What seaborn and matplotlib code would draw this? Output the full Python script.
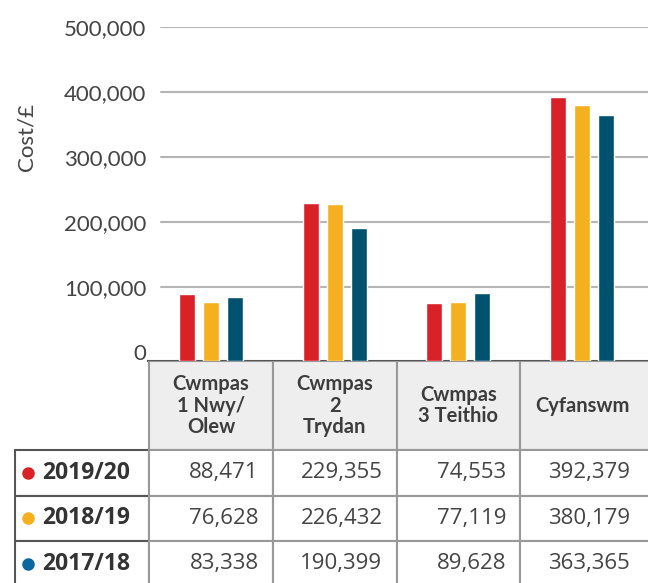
import numpy as np
import pandas as pd
import matplotlib
matplotlib.use("Agg")
import matplotlib.pyplot as plt
from matplotlib.patches import Rectangle
import seaborn as sns

# data
categories = ["Cwmpas\n1 Nwy/\nOlew", "Cwmpas\n2\nTrydan", "Cwmpas\n3 Teithio", "Cyfanswm"]
years = ["2019/20", "2018/19", "2017/18"]
cost_1920 = [88471, 229355, 74553, 392379]
cost_1819 = [76628, 226432, 77119, 380179]
cost_1718 = [83338, 190399, 89628, 363365]
bar_colors = ["#D92128", "#F4B01E", "#00516E"]
dot_colors = ["#D92128", "#F4B01E", "#0A67A0"]
yticks = [0, 100000, 200000, 300000, 400000, 500000]

df = pd.DataFrame({
    "category": categories * 3,
    "year": np.repeat(years, len(categories)),
    "cost": cost_1920 + cost_1819 + cost_1718,
})

sns.set_theme(style="white")
plt.rcParams["font.family"] = ["Lato", "DejaVu Sans"]

W, H = 648, 583
fig = plt.figure(figsize=(W / 100, H / 100), dpi=100)

# bar axes (pixel layout of the reference)
x_left, x_right = -0.509, 3.533
y_min, y_max = -14400, 500000
ax = fig.add_axes([148 / W, (H - 361) / H, 500 / W, (361 - 26.7) / H])
sns.barplot(df, x="category", y="cost", hue="year", palette=bar_colors,
            width=0.582, gap=0.335, saturation=1, legend=False, ax=ax, zorder=3)
# bars run down to the baseline
for p in ax.patches:
    h = p.get_height()
    p.set_y(y_min)
    p.set_height(h - y_min)

ax.set_xlim(x_left, x_right)
ax.set_ylim(y_min, y_max)
ax.set_xticks([])
ax.set(xlabel="", ylabel="")
ax.set_yticks(yticks)
ax.set_yticklabels([f"{v:,}" for v in yticks])
ax.tick_params(axis="y", length=0, pad=1, labelsize=16, labelcolor="#444444")
for t in yticks[1:]:
    ax.axhline(t, xmin=13 / 500, color="#b5b5b5", lw=1.5, zorder=0)
for s in ["top", "right", "left"]:
    ax.spines[s].set_visible(False)
ax.spines["bottom"].set_color("#555555")
ax.spines["bottom"].set_linewidth(1.5)

fig.text(26 / W, 1 - 137 / H, "Cost/£", rotation=90, ha="center", va="center",
         fontsize=16, color="#444444")

# table below
unit = 500 / (x_right - x_left)
t_left = x_left - (148 - 14) / unit
tax = fig.add_axes([14 / W, 0, (W - 14) / W, (H - 361) / H])
tax.set_xlim(t_left, x_right)
tax.set_ylim(H - 361, 0)
tax.axis("off")

head_h, row_h = 89, 45.5
for i, cat in enumerate(categories):
    w = 1.2 if i == len(categories) - 1 else 1
    tax.add_patch(Rectangle((i - 0.5, 0), w, head_h, fc="#eeeeee", ec="#999999",
                            lw=1.5, clip_on=True))
    tax.text(i, head_h / 2, cat, ha="center", va="center", fontsize=14.5,
             fontweight="bold", color="#3c3c3c", linespacing=1.08)

rows = [cost_1920, cost_1819, cost_1718]
for r, (yr, vals) in enumerate(zip(years, rows)):
    y0 = head_h + r * row_h
    tax.add_patch(Rectangle((t_left + 0.005, y0), -0.5 - t_left - 0.005, row_h,
                            fc="white", ec="#555555", lw=1.5))
    tax.plot(t_left + 14 / unit, y0 + row_h / 2, "o", ms=8, color=dot_colors[r],
             clip_on=False)
    tax.text(t_left + 28 / unit, y0 + row_h / 2, yr, ha="left", va="center",
             fontsize=16.5, fontweight="bold", color="#333333",
             family=["Open Sans", "DejaVu Sans"])
    for i, v in enumerate(vals):
        w = 1.2 if i == len(vals) - 1 else 1
        tax.add_patch(Rectangle((i - 0.5, y0), w, row_h, fc="white", ec="#999999",
                                lw=1.5))
        right = min(i + 0.5, x_right - 0.005)
        tax.text(right - 14 / unit, y0 + row_h / 2, f"{v:,}", ha="right",
                 va="center", fontsize=16, color="#444444",
                 family=["Open Sans", "DejaVu Sans"])

fig.savefig("out.png", dpi=100)
